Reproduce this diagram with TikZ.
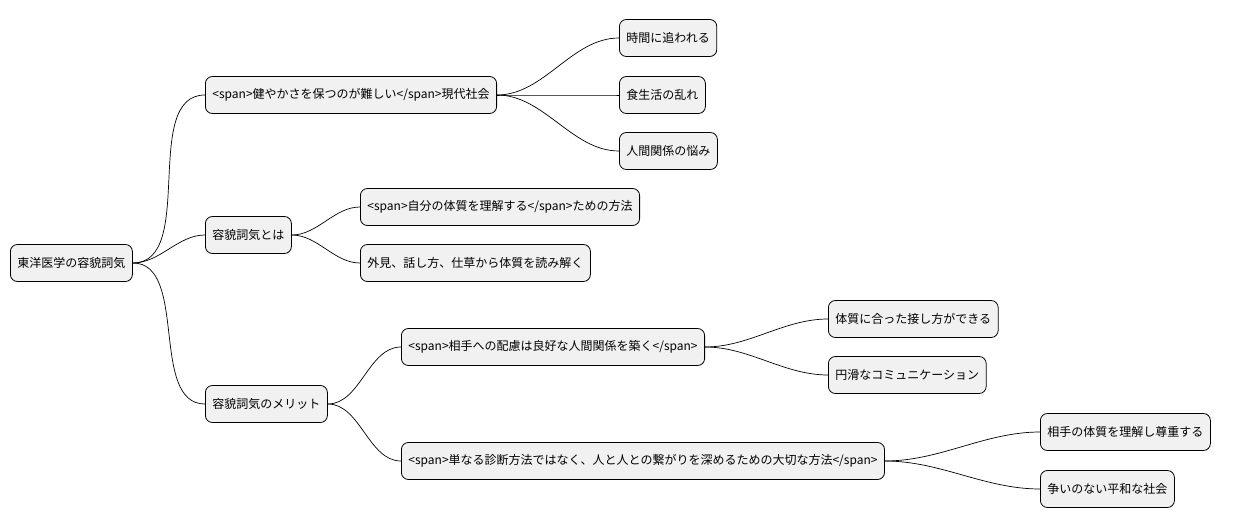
\documentclass[tikz,border=0pt]{standalone}
\usepackage{fontspec}
\setmainfont{Noto Sans CJK JP}
\definecolor{boxgray}{HTML}{F1F1F1}
\begin{document}
\begin{tikzpicture}[x=1pt,y=-1pt,
    idea/.style={draw=black,fill=boxgray,rounded corners=7pt,line width=0.8pt,
      anchor=west,minimum height=37pt,inner xsep=7pt,font=\fontsize{12}{14}\selectfont},
    link/.style={line width=0.7pt,out=0,in=180,looseness=0.9}]
    \useasboundingbox (0,0) rectangle (1251,527);
    \node[idea] (root) at (10,263) {東洋医学の容貌詞気};
    \node[idea] (mod) at (205,95) {<span>健やかさを保つのが難しい</span>現代社会};
    \node[idea] (what) at (205,235) {容貌詞気とは};
    \node[idea] (merit) at (205,404) {容貌詞気のメリット};
    \node[idea] (mod1) at (619,38) {時間に追われる};
    \node[idea] (mod2) at (619,95) {食生活の乱れ};
    \node[idea] (mod3) at (619,151) {人間関係の悩み};
    \node[idea] (what1) at (360,207) {<span>自分の体質を理解する</span>ための方法};
    \node[idea] (what2) at (360,263) {外見、話し方、仕草から体質を読み解く};
    \node[idea] (care) at (401,347) {<span>相手への配慮は良好な人間関係を築く</span>};
    \node[idea] (bond) at (401,461) {<span>単なる診断方法ではなく、人と人との繋がりを深めるための大切な方法</span>};
    \node[idea] (care1) at (828,319) {体質に合った接し方ができる};
    \node[idea] (care2) at (828,375) {円滑なコミュニケーション};
    \node[idea] (bond1) at (1040,432) {相手の体質を理解し尊重する};
    \node[idea] (bond2) at (1040,489) {争いのない平和な社会};
    % connectors
    \foreach \p/\c in {root/mod,root/what,root/merit,mod/mod1,mod/mod2,mod/mod3,
        what/what1,what/what2,merit/care,merit/bond,care/care1,care/care2,
        bond/bond1,bond/bond2}
      \draw[link] (\p.east) to (\c.west);
\end{tikzpicture}
\end{document}
